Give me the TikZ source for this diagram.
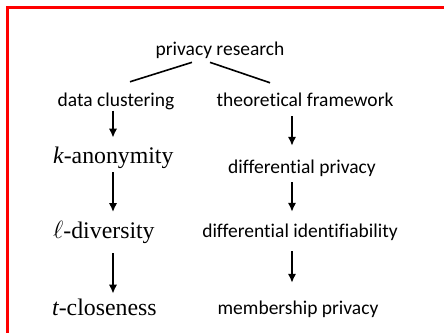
\documentclass[tikz,border=0pt]{standalone}
\usepackage{fontspec}
\setmainfont{Liberation Serif}
\setsansfont{Carlito}[Ligatures=NoCommon]
\usetikzlibrary{arrows.meta}

\tikzset{
  topic/.style={font=\sffamily\fontsize{19.5}{22}\selectfont, inner sep=0pt, anchor=base},
  model/.style={font=\fontsize{23.8}{27}\selectfont, inner sep=0pt, anchor=base west},
  branch/.style={line width=1.6pt},
  flow/.style={->, line width=1.8pt}
}

\begin{document}
\begin{tikzpicture}[x=1pt, y=-1pt, >={Latex[length=9pt,width=8.5pt]}]
  \useasboundingbox (0,0) rectangle (444,332);
  % frame
  \draw[red, line width=3pt] (7.5,345) -- (7.5,7.5) -- (460,7.5);

  \node[topic] (pr) at (220,55) {privacy research};
  \node[topic] (dc) at (116,106) {data clustering};
  \node[topic] (tf) at (305,106) {theoretical framework};

  % left column
  \node[model] (kan) at (53,163) {{\itshape k}-anonymity};
  \node[model] (ldv) at (53,238) {$\ell$-diversity};
  \node[model] (tcl) at (52,315) {{\itshape t}-closeness};

  % right column
  \node[topic] (dp) at (302,173) {differential privacy};
  \node[topic] (di) at (300,237) {differential identifiability};
  \node[topic] (mp) at (298,314) {membership privacy};

  \coordinate (lx) at (113,0);
  \coordinate (rx) at (292,0);

  \draw[branch] ([xshift=-28pt,yshift=-4pt]pr.south) -- ([xshift=14pt,yshift=10.5pt]dc.north);
  \draw[branch] ([xshift=-10pt,yshift=-4pt]pr.south) -- ([xshift=-35pt,yshift=9.5pt]tf.north);

  \draw[flow, shorten <=1pt, shorten >=8.7pt] (dc.south -| lx) -- (kan.north -| lx);
  \draw[flow, shorten <=4pt, shorten >=8.5pt] (kan.south -| lx) -- (ldv.north -| lx);
  \draw[flow, shorten <=10pt, shorten >=4.7pt] (ldv.south -| lx) -- (tcl.north -| lx);

  \draw[flow, shorten <=10pt, shorten >=13.5pt] (tf.south -| rx) -- (dp.north -| rx);
  \draw[flow, shorten <=6pt, shorten >=11.5pt] (dp.south -| rx) -- (di.north -| rx);
  \draw[flow, shorten <=11pt, shorten >=17.5pt] (di.south -| rx) -- (mp.north -| rx);
\end{tikzpicture}
\end{document}
